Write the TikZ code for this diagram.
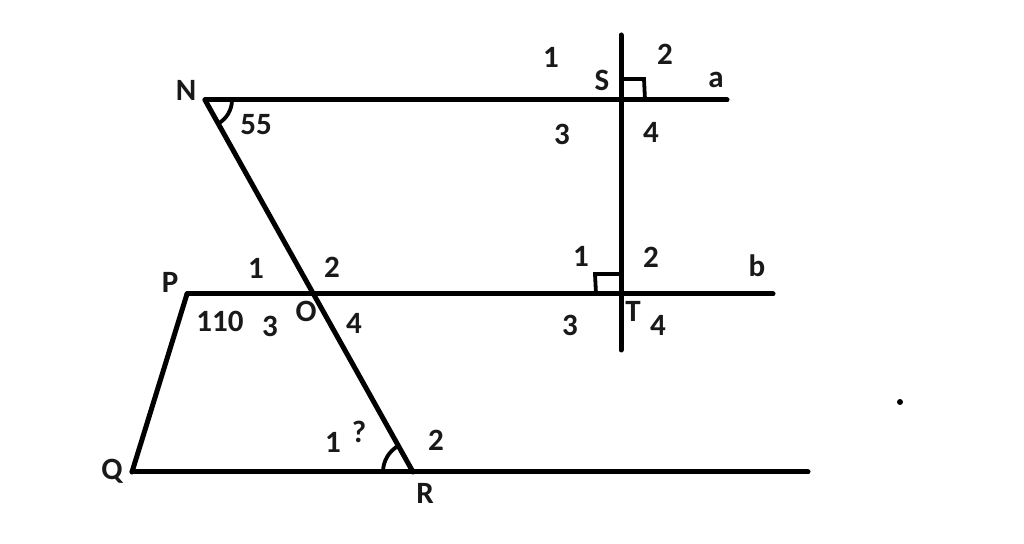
\documentclass[tikz,border=0pt]{standalone}
\usepackage{fontspec}
\setmainfont{Carlito}
\begin{document}
\begin{tikzpicture}[x=1pt,y=1pt,
  ln/.style={line width=5pt,line cap=round},
  mk/.style={line width=3.8pt},
  lbl/.style={font=\bfseries\fontsize{31}{31}\selectfont,inner sep=0pt,text=black!90}]
\useasboundingbox[fill=white] (0,0) rectangle (1024,543);
% points
\coordinate (N) at (205,443);
\coordinate (A) at (727,443);
\coordinate (S) at (621,443);
\coordinate (Vt) at (621,508);
\coordinate (Vb) at (621,193);
\coordinate (T) at (621,249);
\coordinate (P) at (187,249);
\coordinate (B) at (773,249);
\coordinate (O) at (313.5,249);
\coordinate (Q) at (132,71);
\coordinate (R) at (413,71);
\coordinate (C) at (808,71);
% lines
\draw[ln] (N) -- (A);
\draw[ln] (Vt) -- (Vb);
\draw[ln] (P) -- (B);
\draw[ln] (N) -- (R);
\draw[ln] (P) -- (Q);
\draw[ln] (Q) -- (C);
% right angle marks
\draw[mk] (621,464) -- (644,464) -- (645,443);
\draw[mk] (621,269) -- (595,269) -- (596,249);
% angle arcs
\draw[mk] ([shift={(0:27pt)}]N) arc[start angle=0,end angle=-60.8,radius=27pt];
\draw[mk] ([shift={(180:30pt)}]R) arc[start angle=180,end angle=119.2,radius=30pt];
% dot
\fill (900,141) circle (3pt);
% labels
\node[lbl] (lN) at (186,453) {N};
\node[lbl] (l55) at (256,418) {55};
\node[lbl] (lS1) at (551,486) {1};
\node[lbl] (lS2) at (665,489) {2};
\node[lbl] (lS) at (602,463) {S};
\node[lbl] (la) at (716,463) {a};
\node[lbl] (lS3) at (562,409) {3};
\node[lbl] (lS4) at (651,411) {4};
\node[lbl] (lO1) at (256,275) {1};
\node[lbl] (lO2) at (332,276) {2};
\node[lbl] (lP) at (170,261) {P};
\node[lbl] (l110) at (220,222) {110};
\node[lbl] (lO3) at (270,217) {3};
\node[lbl] (lO) at (306,232) {O};
\node[lbl] (lO4) at (354,220) {4};
\node[lbl] (lT1) at (581,287) {1};
\node[lbl] (lT2) at (651,286) {2};
\node[lbl] (lb) at (757,277) {b};
\node[lbl] (lT3) at (570,218) {3};
\node[lbl] (lT) at (633,232) {T};
\node[lbl] (lT4) at (658,218) {4};
\node[lbl] (lR1) at (333,101) {1};
\node[lbl] (lq) at (359,111) {?};
\node[lbl] (lR2) at (436,103) {2};
\node[lbl] (lQ) at (112,72) {Q};
\node[lbl] (lR) at (425,50) {R};
\end{tikzpicture}
\end{document}
